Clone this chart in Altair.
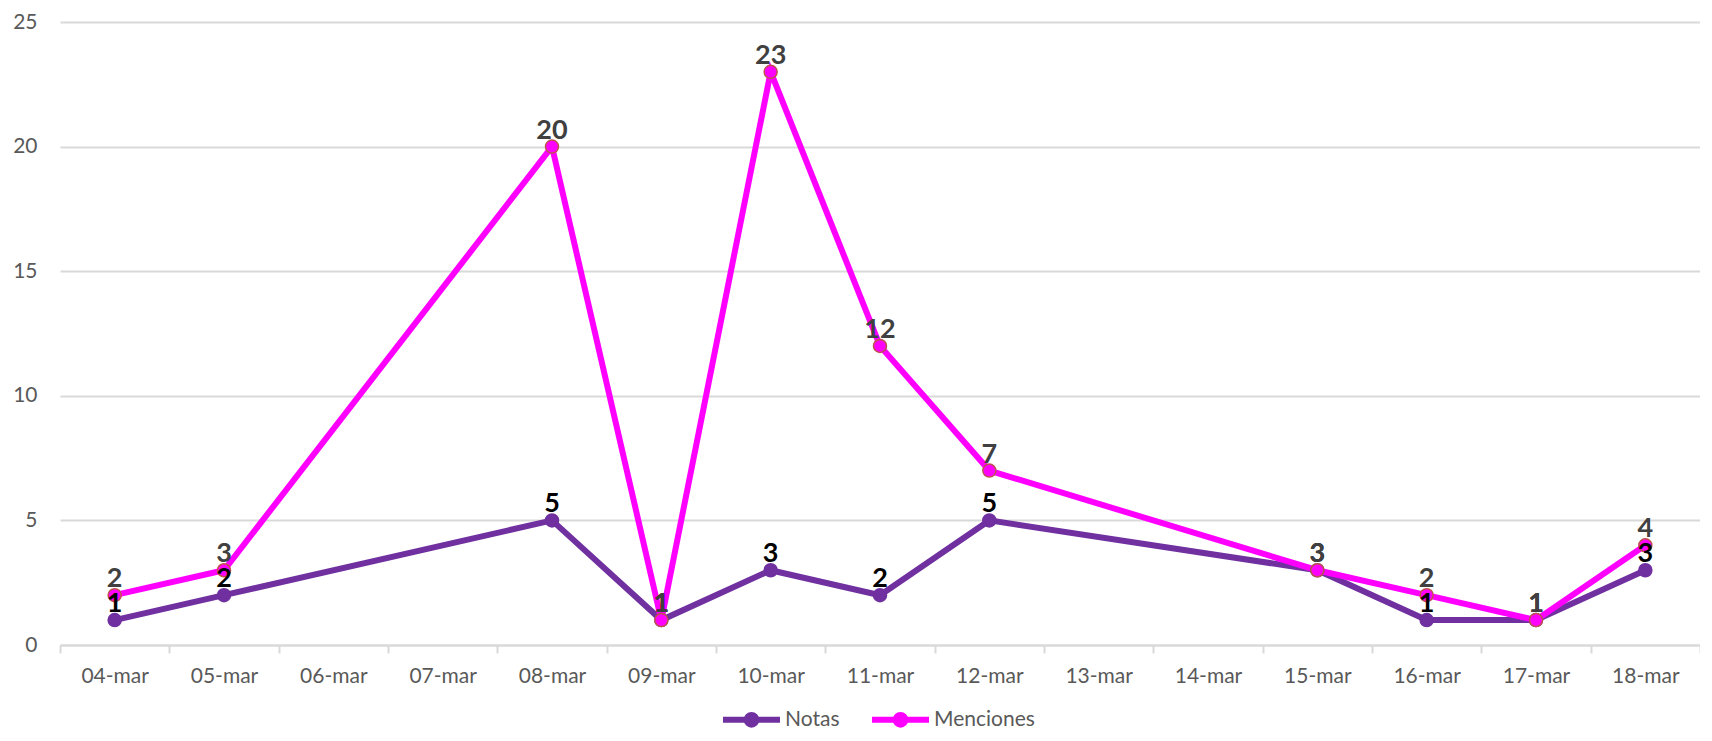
import altair as alt
import pandas as pd

# ---- data ----
all_dates = ["04-mar", "05-mar", "06-mar", "07-mar", "08-mar", "09-mar", "10-mar",
             "11-mar", "12-mar", "13-mar", "14-mar", "15-mar", "16-mar", "17-mar", "18-mar"]
data_dates = ["04-mar", "05-mar", "08-mar", "09-mar", "10-mar", "11-mar", "12-mar",
              "15-mar", "16-mar", "17-mar", "18-mar"]
notas = [1, 2, 5, 1, 3, 2, 5, 3, 1, 1, 3]
menciones = [2, 3, 20, 1, 23, 12, 7, 3, 2, 1, 4]
series_names = ["Notas", "Menciones"]
series_colors = ["#7030A0", "#FF00FF"]
marker_outline = {"Notas": "#7030A0", "Menciones": "#C0504D"}
label_colors = {"Notas": "#000000", "Menciones": "#404040"}

rows = []
for name, vals in (("Notas", notas), ("Menciones", menciones)):
    for i, (d, v) in enumerate(zip(data_dates, vals)):
        rows.append({"fecha": d, "valor": v, "serie": name, "orden": i,
                     "outline": marker_outline[name], "lcolor": label_colors[name]})
df = pd.DataFrame(rows)

FONT = "Lato"
legend_path = "M-1,0L1,0M0.17,0A0.17,0.17,0,1,1,-0.17,0A0.17,0.17,0,1,1,0.17,0Z"

x_enc = alt.X("fecha:O", sort=all_dates,
              scale=alt.Scale(domain=all_dates, type="band", paddingInner=0, paddingOuter=0),
              axis=alt.Axis(title=None, grid=False, labelAngle=0, ticks=True, tickBand="extent",
                            tickSize=8, tickColor="#d9d9d9", tickWidth=2,
                            domain=True, domainColor="#d9d9d9", domainWidth=2,
                            labelFont=FONT, labelFontSize=21, labelColor="#595959",
                            labelBaseline="middle", labelPadding=23))
y_enc = alt.Y("valor:Q", scale=alt.Scale(domain=[0, 25], nice=False),
              axis=alt.Axis(title=None, values=[0, 5, 10, 15, 20, 25], grid=True,
                            gridColor="#d9d9d9", gridWidth=2, domain=False, ticks=False,
                            labelFont=FONT, labelFontSize=21, labelColor="#595959",
                            labelPadding=23))
color_enc = alt.Color("serie:N",
                      scale=alt.Scale(domain=series_names, range=series_colors),
                      legend=alt.Legend(orient="none", legendX=660, legendY=666,
                                        direction="horizontal", title=None,
                                        symbolType=legend_path, symbolSize=3249,
                                        symbolStrokeWidth=6, labelFont=FONT,
                                        labelFontSize=21, labelColor="#595959",
                                        labelOffset=2, columnPadding=20))

base = alt.Chart(df)

lines = base.mark_line(strokeWidth=6).encode(
    x=x_enc, y=y_enc, color=color_enc, order="orden:Q")

points = base.mark_point(filled=True, size=170, strokeWidth=1.5, opacity=1).encode(
    x=x_enc, y=y_enc,
    fill=alt.Fill("serie:N", scale=alt.Scale(domain=series_names, range=series_colors), legend=None),
    stroke=alt.Stroke("outline:N", scale=None))

labels = base.mark_text(font=FONT, fontSize=27, fontWeight="bold", baseline="alphabetic",
                        dy=-8).encode(
    x=x_enc, y=y_enc, text="valor:Q",
    color=alt.Color("lcolor:N", scale=None))

chart = alt.layer(lines, points, labels).properties(
    width=1640, height=623,
    autosize=alt.AutoSizeParams(type="none"),
    padding={"left": 52, "top": 14, "right": 0, "bottom": 86},
).configure_view(stroke=None)

chart.save("out.html", embed_options={"renderer": "svg", "actions": False})
